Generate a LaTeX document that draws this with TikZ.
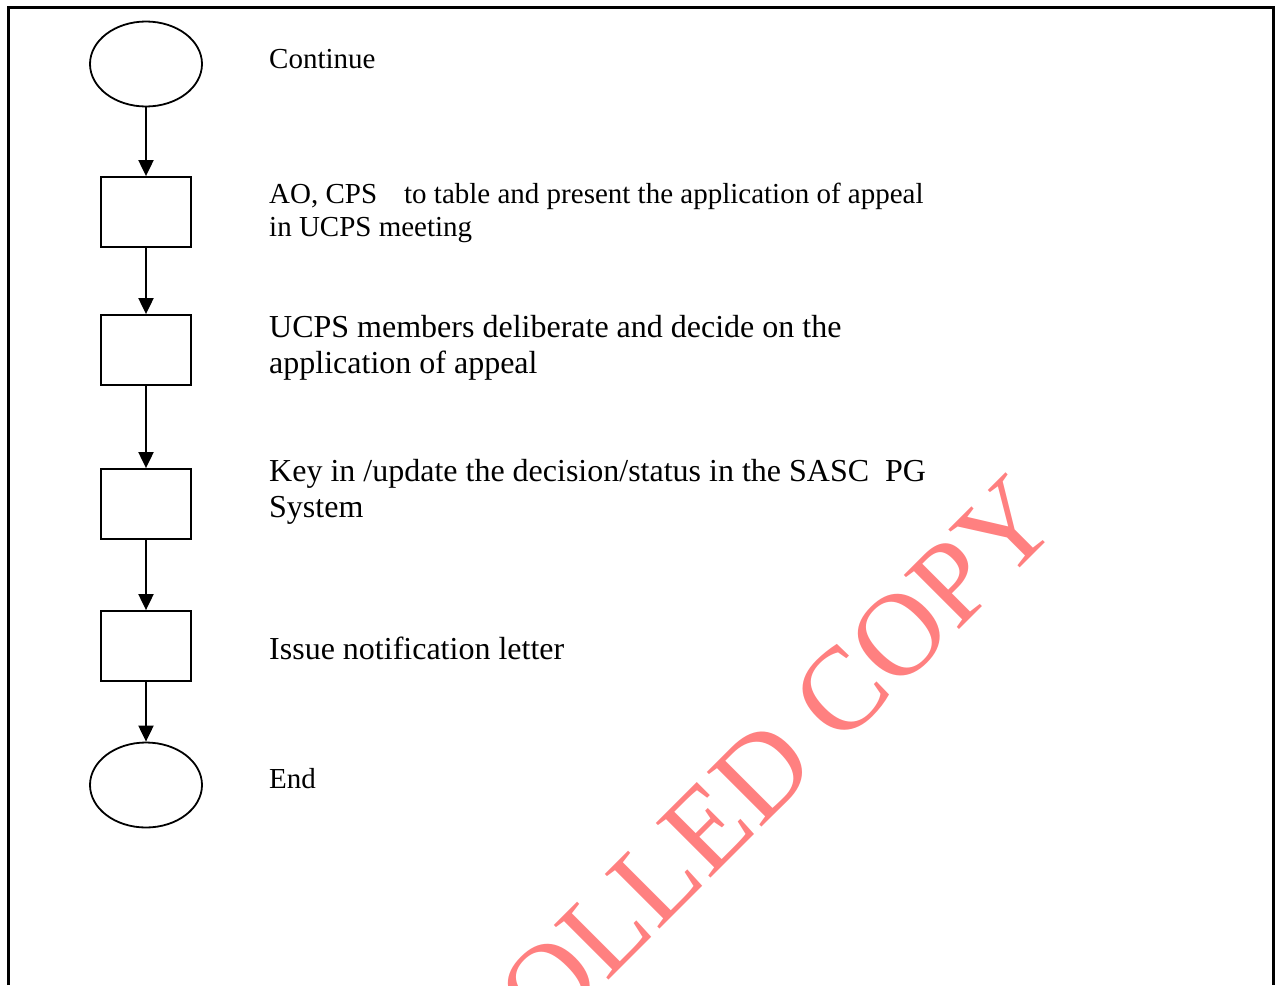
\documentclass[tikz,border=0pt]{standalone}
\usepackage{fontspec}
\setmainfont{Liberation Serif}
\usetikzlibrary{shapes.geometric,arrows.meta}
\definecolor{wmred}{RGB}{255,128,128}

\begin{document}
\begin{tikzpicture}[x=1pt,y=1pt,
    terminal/.style={draw,ellipse,line width=1.8pt,minimum width=112pt,minimum height=85pt,inner sep=0pt},
    process/.style={draw,rectangle,line width=1.8pt,minimum width=90pt,minimum height=70pt,inner sep=0pt},
    flow/.style={-{Triangle[length=16pt,width=15pt]},line width=2pt},
    small/.style={anchor=base west,inner sep=0pt,text width=750pt,align=flush left,font=\fontsize{29}{33}\selectfont},
    big/.style={anchor=base west,inner sep=0pt,text width=750pt,align=flush left,font=\fontsize{32}{36}\selectfont}]
   \useasboundingbox (0,0) rectangle (1276,-985);
   % watermark
   \begin{scope}
    \clip (0,0) rectangle (1276,-985);
    \node[rotate=45,text=wmred,font=\fontsize{118}{118}\selectfont] (mark) at (636,-898) {CONTROLLED COPY};
   \end{scope}
   \draw[line width=3pt] (8,-985) -- (8,-7) -- (1273,-7) -- (1273,-985);

   \node[terminal] (s_0) at (146,-64) {};
   \node[process] (p_1) at (146,-212) {};
   \node[process] (p_2) at (146,-350) {};
   \node[process] (p_3) at (146,-504) {};
   \node[process] (p_4) at (146,-646) {};
   \node[terminal] (s_1) at (146,-785) {};

   \path[flow] (s_0) edge (p_1)
    (p_1) edge (p_2)
    (p_2) edge (p_3)
    (p_3) edge (p_4)
    (p_4) edge (s_1);

   \node[small] (t_0) at (269,-68) {Continue};
   \node[small] (t_1) at (269,-203) {AO, CPS\hspace{27pt}to table and present the application of appeal\\in UCPS meeting};
   \node[big] (t_2) at (269,-337) {UCPS members deliberate and decide on the\\application of appeal};
   \node[big] (t_3) at (269,-481) {Key in /update the decision/status in the SASC\ \ PG\\System};
   \node[big] (t_4) at (269,-659) {Issue notification letter};
   \node[small] (t_5) at (269,-788) {End};
\end{tikzpicture}
\end{document}
